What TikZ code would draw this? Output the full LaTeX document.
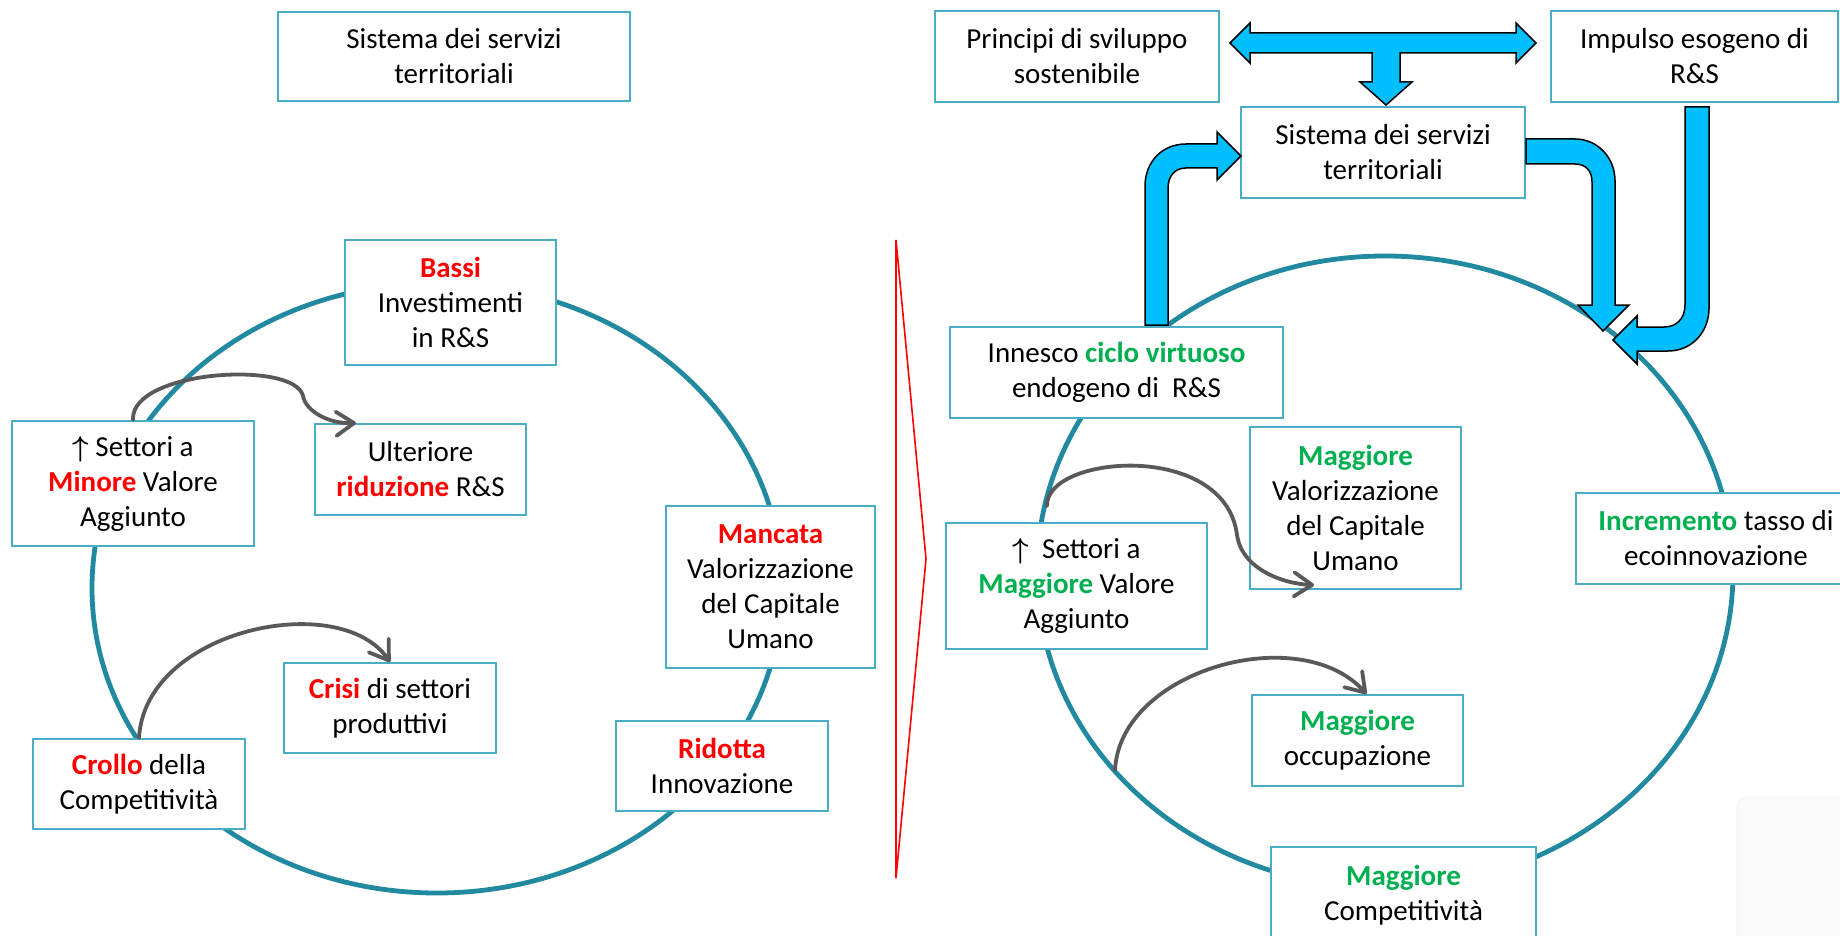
\documentclass[tikz,border=0pt]{standalone}
\usepackage{amsmath}
\usepackage{fontspec}
\setmainfont{Carlito}
\usetikzlibrary{arrows.meta,calc,positioning}
\definecolor{boxline}{RGB}{75,172,198}
\definecolor{ringline}{RGB}{33,137,160}
\definecolor{negred}{RGB}{255,0,0}
\definecolor{posgreen}{RGB}{0,176,80}
\definecolor{flow}{RGB}{0,191,255}
\definecolor{curvegray}{RGB}{89,89,89}
\newcommand{\rosso}[1]{\textcolor{negred}{\textbf{#1}}}
\newcommand{\verde}[1]{\textcolor{posgreen}{\textbf{#1}}}
\tikzset{
    box/.style={
    rectangle,draw=boxline,line width=1pt,fill=white,align=center,inner sep=0pt,
    font=\fontsize{14.5}{17.5}\selectfont
    },
    wh/.style 2 args={
    minimum width=#1*0.5pt,minimum height=#2*0.5pt
    },
    ring/.style={
    draw=ringline,line width=2.4pt
    },
    curvearrow/.style={
    draw=curvegray,line width=1.9pt,line cap=round,-{Straight Barb[length=9pt,width=12pt,round]}
    },
    block/.style={
    fill=flow,draw=black,line width=0.75pt,line join=miter
    },
}

\begin{document}
\begin{tikzpicture}[x=0.5pt,y=-0.5pt]
  \useasboundingbox (0,0) rectangle (1840,936);
  \filldraw[fill=black!2,draw=black!5,rounded corners=5pt] (1737,797) rectangle (1870,960);

  \draw[ring] (437,588) ellipse [x radius=345,y radius=305];
  \draw[ring] (1385,572) ellipse [x radius=348,y radius=316];
  \draw[negred,line width=0.8pt,line join=miter] (896,240) -- (926,559) -- (896,878) -- cycle;

  \node[box,wh={352}{89}] (sisL) at (454,56.5) {Sistema dei servizi\\territoriali};
  \node[box,wh={211}{125}] (bassi) at (450.5,302.5) {\rosso{Bassi}\\Investimenti\\in R\&S};
  \node[box,wh={242}{125}] (setmin) at (133,483.5) {$\boldsymbol{\uparrow}$ Settori a\\\rosso{Minore} Valore\\Aggiunto};
  \node[box,wh={211}{91}] (ult) at (420.5,469.5) {Ulteriore\\\rosso{riduzione} R\&S};
  \node[box,wh={209}{162}] (manc) at (770.5,587) {\rosso{Mancata}\\Valorizzazione\\del Capitale\\Umano};
  \node[box,wh={212}{90}] (crisi) at (390,708) {\rosso{Crisi} di settori\\produttivi};
  \node[box,wh={212}{90}] (crollo) at (139,784) {\rosso{Crollo} della\\Competitività};
  \node[box,wh={212}{90}] (ridotta) at (722,766) {\rosso{Ridotta}\\Innovazione};

  \node[box,wh={284}{91}] (princ) at (1077,56.5) {Principi di sviluppo\\sostenibile};
  \node[box,wh={287}{91}] (impulso) at (1694.5,56.5) {Impulso esogeno di\\R\&S};
  \node[box,wh={284}{91}] (sisR) at (1383,152.5) {Sistema dei servizi\\territoriali};
  \node[box,wh={333}{91}] (innesco) at (1116.5,372.5) {Innesco \verde{ciclo virtuoso}\\endogeno di~ R\&S};
  \node[box,wh={211}{162}] (maggval) at (1355.5,508) {\verde{Maggiore}\\Valorizzazione\\del Capitale\\Umano};
  \node[box,wh={261}{126}] (setmag) at (1076.5,586) {$\boldsymbol{\uparrow}$~ Settori a\\\verde{Maggiore} Valore\\Aggiunto};
  \node[box,wh={280}{91}] (incr) at (1716,538.5) {\verde{Incremento} tasso di\\ecoinnovazione};
  \node[box,wh={211}{91}] (maggocc) at (1357.5,740.5) {\verde{Maggiore}\\occupazione};
  \node[box,wh={265}{96}] (maggcomp) at (1403.5,895) {\verde{Maggiore}\\Competitività};

  \coordinate (k1) at (303,396);
  \coordinate (k2) at (1237,535);
  \coordinate (s1) at (1047,506);
  \coordinate (s2) at (1115,770);

  \draw[curvearrow] (setmin.north) .. controls (130,370) and (295,360) .. (k1)
    .. controls (306,412) and (330,424) .. ($(ult.north west)+(42,0)$);
  \draw[curvearrow] (crollo.north) .. controls +(6,-109) and +(-50,-73) .. (crisi.north);
  \draw[curvearrow] (s1) .. controls (1045,455) and (1225,440) .. (k2)
    .. controls (1242,570) and (1285,584) .. ($(maggval.south west)+(65,-5)$);
  \draw[curvearrow] (s2) .. controls (1120,670) and (1300,620) .. ($(maggocc.north)+(9,0)$);

  \filldraw[block] (1230,43) -- (1250,23) -- (1250,33) -- (1516,33) -- (1516,23) -- (1536,43)
    -- (1516,63) -- (1516,53) -- (1400,53) -- (1400,82) -- (1412,82) -- (1386,105) -- (1360,82)
    -- (1372,82) -- (1372,53) -- (1250,53) -- (1250,63) -- cycle;
  \filldraw[block] (1145,325) -- (1145,186) .. controls (1145,162) and (1162,144) .. (1186,144)
    -- (1217,144) -- (1217,132) -- (1241,156) -- (1217,180) -- (1217,168) -- (1186,168)
    .. controls (1175,168) and (1168,176) .. (1168,188) -- (1168,325) -- cycle;
  \filldraw[block] (1526,139) -- (1575,139) .. controls (1597,139) and (1615,157) .. (1615,181)
    -- (1615,305) -- (1629,305) -- (1603,331) -- (1578,305) -- (1592,305) -- (1592,182)
    .. controls (1592,171) and (1586,164) .. (1575,164) -- (1526,164) -- cycle;
  \filldraw[block] (1685,107) -- (1709,107) -- (1709,308) .. controls (1709,332) and (1692,351) .. (1668,351)
    -- (1637,351) -- (1637,364) -- (1613,340) -- (1637,316) -- (1637,327) -- (1664,327)
    .. controls (1677,327) and (1685,318) .. (1685,305) -- cycle;
\end{tikzpicture}
\end{document}
